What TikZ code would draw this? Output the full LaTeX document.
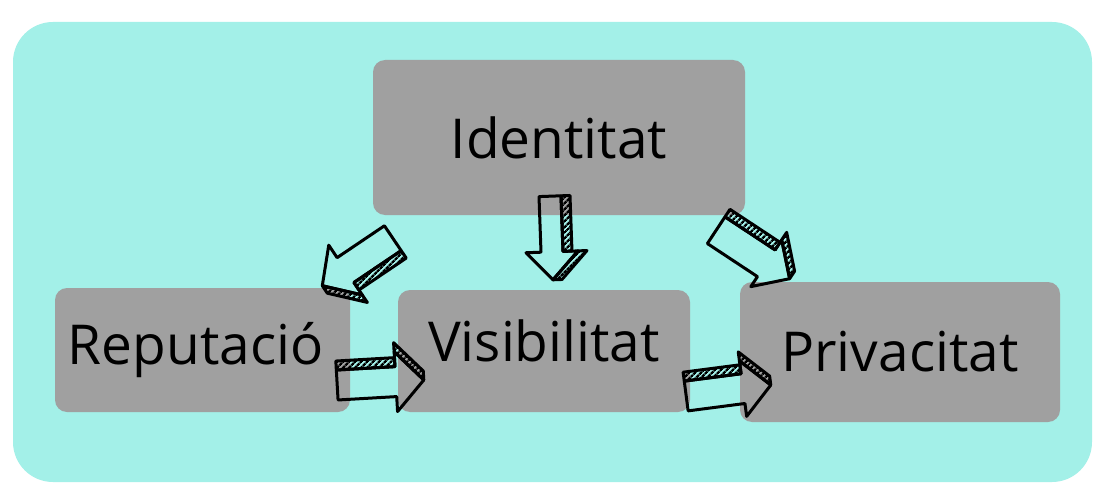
\documentclass[tikz,border=0pt]{standalone}
\usepackage{fontspec}
\setmainfont{Open Sans}
\usetikzlibrary{calc, patterns.meta}
\definecolor{turq}{RGB}{163,240,232}
\definecolor{boxgrey}{RGB}{160,160,160}
\tikzset{>=stealth}

% block arrow with a hatched side, from #1 to #2, shaft half width #3, head half width #4
\newcommand{\blockarrow}[4]{%
  \path let \p1=($(#2)-(#1)$) in
    \pgfextra{\pgfmathsetmacro{\barang}{atan2(\y1,\x1)}\pgfmathsetmacro{\barlen}{veclen(\x1,\y1)}%
      \xdef\barang{\barang}\xdef\barlen{\barlen}};
  \pgfmathsetmacro{\barbase}{\barlen-28}
  \begin{scope}[shift={(#1)},rotate=\barang,x=1pt,y=1pt]
    \draw[side] (0,#3) -- (\barbase,#3) -- (\barbase,#3+9) -- (0,#3+9) -- cycle;
    \draw[side] (\barbase,#4) -- (\barlen,0) -- (\barlen,9) -- (\barbase,#4+9) -- cycle;
    \draw[front] (0,-#3) -- (0,#3) -- (\barbase,#3) -- (\barbase,#4) -- (\barlen,0)
      -- (\barbase,-#4) -- (\barbase,-#3) -- cycle;
  \end{scope}}

\begin{document}
\begin{tikzpicture}[x=1pt,y=-1pt,
    box/.style={fill=boxgrey,rounded corners=12pt,inner sep=0pt,
      font=\fontsize{55}{60}\selectfont},
    front/.style={line width=3pt,line join=round},
    side/.style={line width=3pt,line join=round,
      pattern={Lines[angle=45,distance=4pt,line width=2.4pt]}}]
  \useasboundingbox (0,0) rectangle (1096,487);
  \fill[white] (0,0) rectangle (1096,487);
  \fill[turq,rounded corners=40pt] (13,22) rectangle (1092,482);

  \node[box,minimum width=372pt,minimum height=155pt] (iden) at (559,137.5) {Identitat};
  \node[box,minimum width=295pt,minimum height=124pt] (rep) at (202.5,350) {Reputació\hspace*{14pt}};
  \node[box,minimum width=292pt,minimum height=122pt] (vis) at (544,351) {\raisebox{20pt}{Visibilitat}};
  \node[box,minimum width=320pt,minimum height=140pt] (priv) at (900,352) {Privacitat};

  \coordinate (iv1) at ($(iden.south)+(-9,-19)$);
  \coordinate (iv2) at ($(vis.north)+(9,-10)$);
  \coordinate (ir1) at ($(iden.south west)+(20,23)$);
  \coordinate (ir2) at ($(rep.north east)+(-28,-2)$);
  \coordinate (ip1) at ($(iden.south east)+(-29,15)$);
  \coordinate (ip2) at ($(priv.north west)+(50,-3)$);
  \coordinate (rv1) at ($(rep.east)+(-13,35)$);
  \coordinate (rv2) at ($(vis.west)+(26,29)$);
  \coordinate (vp1) at ($(vis.east)+(-4,45)$);
  \coordinate (vp2) at ($(priv.west)+(31,33)$);

  \blockarrow{iv1}{iv2}{11}{26}
  \blockarrow{ir1}{ir2}{15}{30}
  \blockarrow{ip1}{ip2}{16}{28}
  \blockarrow{rv1}{rv2}{15}{30}
  \blockarrow{vp1}{vp2}{15}{28}
\end{tikzpicture}
\end{document}
